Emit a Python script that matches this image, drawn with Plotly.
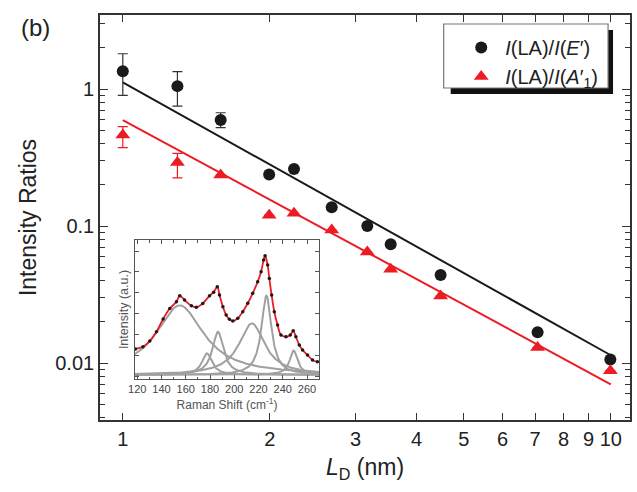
import numpy as np
import plotly.graph_objects as go

# ---------------- main data ----------------
LD = [1.0, 1.294, 1.587, 1.995, 2.243, 2.68, 3.17, 3.54, 4.48, 7.08, 9.98]
ratio_E = [1.35, 1.05, 0.594, 0.238, 0.261, 0.137, 0.100, 0.0735, 0.0439, 0.0168, 0.0106]
ratio_E_hi = [1.81, 1.34, 0.671, None, None, None, None, None, None, None, None]
ratio_E_lo = [0.90, 0.75, 0.522, None, None, None, None, None, None, None, None]

ratio_A = [0.461, 0.291, 0.236, 0.120, 0.124, 0.0935, 0.0646, 0.0483, 0.0308, 0.0130, 0.0088]
ratio_A_hi = [0.531, 0.339, None, None, None, None, None, None, None, None, None]
ratio_A_lo = [0.373, 0.225, None, None, None, None, None, None, None, None, None]

fit_x = [1.0, 10.0]
fit_E = [1.12, 0.0114]
fit_A = [0.594, 0.0070]

x_ticks = [1, 2, 3, 4, 5, 6, 7, 8, 9, 10]
y_ticks = [0.01, 0.1, 1]
y_ticktext = ["0.01", "0.1", "1"]
y_minor = [0.004, 0.005, 0.006, 0.007, 0.008, 0.009,
           0.02, 0.03, 0.04, 0.05, 0.06, 0.07, 0.08, 0.09,
           0.2, 0.3, 0.4, 0.5, 0.6, 0.7, 0.8, 0.9, 2, 3]

# ---------------- inset data ----------------
raman_x = [118.5, 124.7, 130.3, 135.8, 141.3, 146.8, 152.3, 155.0, 159.0, 164.6,
           168.7, 174.0, 179.6, 183.0, 186.0, 187.8, 190.6, 193.3, 196.0, 198.8,
           202.9, 207.0, 211.1, 215.2, 219.3, 222.1, 224.2, 225.4, 227.5, 228.9,
           230.8, 233.0, 235.7, 238.5, 242.6, 246.2, 248.6, 250.8, 253.6, 256.3,
           260.4, 264.5, 268.6]
raman_y = [21.6, 23.2, 27.3, 34.0, 43.2, 50.8, 55.6, 59.9, 56.8, 52.7,
           51.6, 54.4, 59.9, 62.5, 66.4, 60.4, 52.0, 46.0, 43.0, 41.7,
           43.7, 48.4, 54.5, 61.7, 70.0, 77.2, 85.6, 88.7, 82.0, 72.4,
           60.4, 48.4, 38.8, 31.7, 30.4, 31.7, 34.7, 30.4, 24.5, 20.9,
           17.3, 13.7, 12.4]

# fitted Lorentzian components (centre, half width, amplitude)
comp_center = [155.0, 177.5, 186.5, 214.5, 226.5, 249.0]
comp_hwhm = [24.0, 5.0, 5.5, 13.0, 5.0, 4.0]
comp_amp = [50.0, 15.5, 31.0, 37.0, 57.0, 17.5]
comp_base = 3.0

fig = go.Figure()

FONT = "Liberation Sans, Arial, sans-serif"
RED = "#ec1c24"

def err(vals, hi, lo):
    plus = [(h - v) if h is not None else 0 for v, h in zip(vals, hi)]
    minus = [(v - l) if l is not None else 0 for v, l in zip(vals, lo)]
    return plus, minus

# fit lines
fig.add_trace(go.Scatter(x=fit_x, y=fit_E, mode="lines",
                         line=dict(color="#1a1a1a", width=2), showlegend=False, hoverinfo="skip"))
fig.add_trace(go.Scatter(x=fit_x, y=fit_A, mode="lines",
                         line=dict(color=RED, width=2), showlegend=False, hoverinfo="skip"))

pE, mE = err(ratio_E, ratio_E_hi, ratio_E_lo)
pA, mA = err(ratio_A, ratio_A_hi, ratio_A_lo)

fig.add_trace(go.Scatter(
    x=LD, y=ratio_E, mode="markers",
    name="<i>I</i>(LA)/<i>I</i>(<i>E</i>′)",
    marker=dict(symbol="circle", size=12, color="#1a1a1a"),
    error_y=dict(type="data", symmetric=False, array=pE, arrayminus=mE,
                 color="#333333", thickness=1.2, width=5)))
fig.add_trace(go.Scatter(
    x=LD, y=ratio_A, mode="markers",
    name="<i>I</i>(LA)/<i>I</i>(<i>A</i>′<sub>1</sub>)",
    marker=dict(symbol="triangle-up", size=13, color=RED),
    error_y=dict(type="data", symmetric=False, array=pA, arrayminus=mA,
                 color=RED, thickness=1.2, width=5)))

# inset components
xg = np.arange(117.0, 271.5, 0.5)
for c, w, a in zip(comp_center, comp_hwhm, comp_amp):
    yc = comp_base + a / (1.0 + ((xg - c) / w) ** 2)
    fig.add_trace(go.Scatter(x=xg, y=yc, mode="lines", xaxis="x2", yaxis="y2",
                             line=dict(color="#a0a0a0", width=2), showlegend=False, hoverinfo="skip"))
fig.add_trace(go.Scatter(x=raman_x, y=raman_y, mode="lines", xaxis="x2", yaxis="y2",
                         line=dict(color=RED, width=1.8, shape="spline"), showlegend=False, hoverinfo="skip"))
fig.add_trace(go.Scatter(x=raman_x, y=raman_y, mode="markers", xaxis="x2", yaxis="y2",
                         marker=dict(color="#1a1a1a", size=3.5), showlegend=False, hoverinfo="skip"))

axis_common = dict(showline=True, linecolor="#333333", linewidth=1.6, mirror="allticks",
                   ticks="inside", tickcolor="#333333", tickwidth=1.3, showgrid=False, zeroline=False)

fig.update_layout(
    width=637, height=492,
    margin=dict(l=100, r=5, t=15, b=72),
    paper_bgcolor="white", plot_bgcolor="white",
    font=dict(family=FONT, color="#222222"),
    xaxis=dict(type="log", range=[np.log10(0.898), np.log10(10.95)],
               tickvals=x_ticks, ticktext=[str(v) for v in x_ticks], ticklen=7,
               tickfont=dict(size=20, color="#222222"),
               title=dict(text="<i>L</i><sub>D</sub> (nm)", font=dict(size=23), standoff=10),
               **axis_common),
    yaxis=dict(type="log", range=[np.log10(0.00384), np.log10(3.47)],
               tickvals=y_ticks, ticktext=y_ticktext, ticklen=8,
               minor=dict(tickvals=y_minor, ticks="inside", ticklen=5, tickcolor="#333333", tickwidth=1.2),
               tickfont=dict(size=20, color="#222222"),
               title=dict(text="Intensity Ratios", font=dict(size=23), standoff=12),
               **axis_common),
    xaxis2=dict(domain=[0.0658, 0.4135], anchor="y2", range=[118, 270],
                tickvals=[120, 140, 160, 180, 200, 220, 240, 260], ticklen=4,
                minor=dict(dtick=10, tick0=0, ticks="inside", ticklen=2.5, tickcolor="#555555"),
                tickfont=dict(size=11, color="#444444"),
                title=dict(text="Raman Shift (cm<sup>-1</sup>)", font=dict(size=12, color="#555555"), standoff=6),
                showline=True, linecolor="#555555", linewidth=1, mirror="allticks",
                ticks="inside", tickcolor="#555555", showgrid=False, zeroline=False),
    yaxis2=dict(domain=[0.1012, 0.4444], anchor="x2", range=[0, 100],
                tick0=2, dtick=15, ticklen=4, showticklabels=False,
                title=dict(text="Intensity (a.u.)", font=dict(size=12.5, color="#555555"), standoff=2),
                showline=True, linecolor="#555555", linewidth=1, mirror="allticks",
                ticks="inside", tickcolor="#555555", showgrid=False, zeroline=False),
    legend=dict(x=0.674, y=0.968, xanchor="left", yanchor="top",
                bgcolor="rgba(0,0,0,0)", borderwidth=0, itemwidth=38,
                font=dict(size=20, color="#222222"), tracegroupgap=0),
    shapes=[
        dict(type="rect", xref="paper", yref="paper", x0=0.6617, x1=0.968, y0=0.8049, y1=0.963,
             fillcolor="#111111", line=dict(width=0), layer="above"),
        dict(type="rect", xref="paper", yref="paper", x0=0.6485, x1=0.9586, y0=0.8198, y1=0.9778,
             fillcolor="white", line=dict(color="#777777", width=1.2), layer="above"),
    ],
    annotations=[
        dict(text="(b)", xref="paper", yref="paper", x=-0.122, y=0.968,
             xanchor="center", yanchor="middle",
             showarrow=False, font=dict(size=24, color="#222222"))
    ],
)

fig.write_html("out.html")
